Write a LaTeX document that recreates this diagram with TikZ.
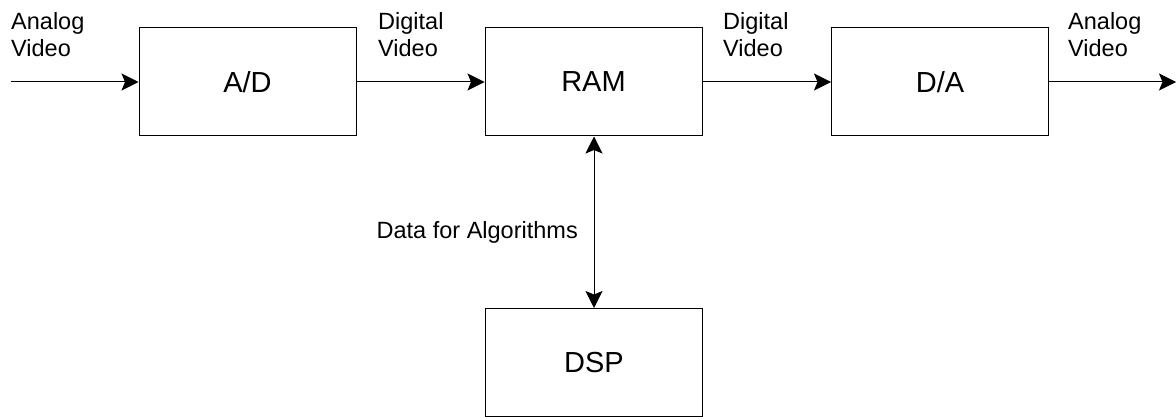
\documentclass[tikz,border=0pt]{standalone}
\usepackage{fontspec}
\setmainfont{Liberation Sans}
\usetikzlibrary{arrows.meta}
\begin{document}
\begin{tikzpicture}[x=1pt,y=-1pt,
  arrowtip/.tip={Stealth[length=17pt,width=17pt,inset=3.5pt]},
  blockbox/.style={draw, line width=1pt, minimum width=217pt, minimum height=108pt,
    inner sep=0pt, font=\fontsize{29}{33}\selectfont},
  sig/.style={line width=1pt, -arrowtip},
  biflow/.style={line width=1pt, arrowtip-arrowtip},
  lbl/.style={anchor=north west, align=left, inner sep=0pt, font=\fontsize{23.5}{27}\selectfont}
]
\useasboundingbox (0,0) rectangle (1176,417);

% processing blocks
\node[blockbox] (ad)  at (247.5,82)  {A/D};
\node[blockbox] (ram) at (593.5,82)  {RAM};
\node[blockbox] (da)  at (940,82)    {D/A};
\node[blockbox] (dsp) at (594,362.5) {DSP};

% free ends of the signal path
\coordinate (in)  at (11,82);
\coordinate (out) at (1176,82);

% signal path
\draw[sig] (in) -- (ad.west);
\draw[sig] (ad.east) -- (ram.west);
\draw[sig] (ram.east) -- (da.west);
\draw[sig] (da.east) -- (out);
\draw[biflow] (ram.south -| dsp.north) -- (dsp.north);

% signal labels
\node[lbl] (l1) at (11,12)   {Analog\\Video};
\node[lbl] (l2) at (378,12)  {Digital\\Video};
\node[lbl] (l3) at (723,12)  {Digital\\Video};
\node[lbl] (l4) at (1068,12) {Analog\\Video};
\node[anchor=base east, inner sep=0pt, font=\fontsize{23.5}{27}\selectfont] (l5) at (578,238) {Data for Algorithms};
\end{tikzpicture}
\end{document}
